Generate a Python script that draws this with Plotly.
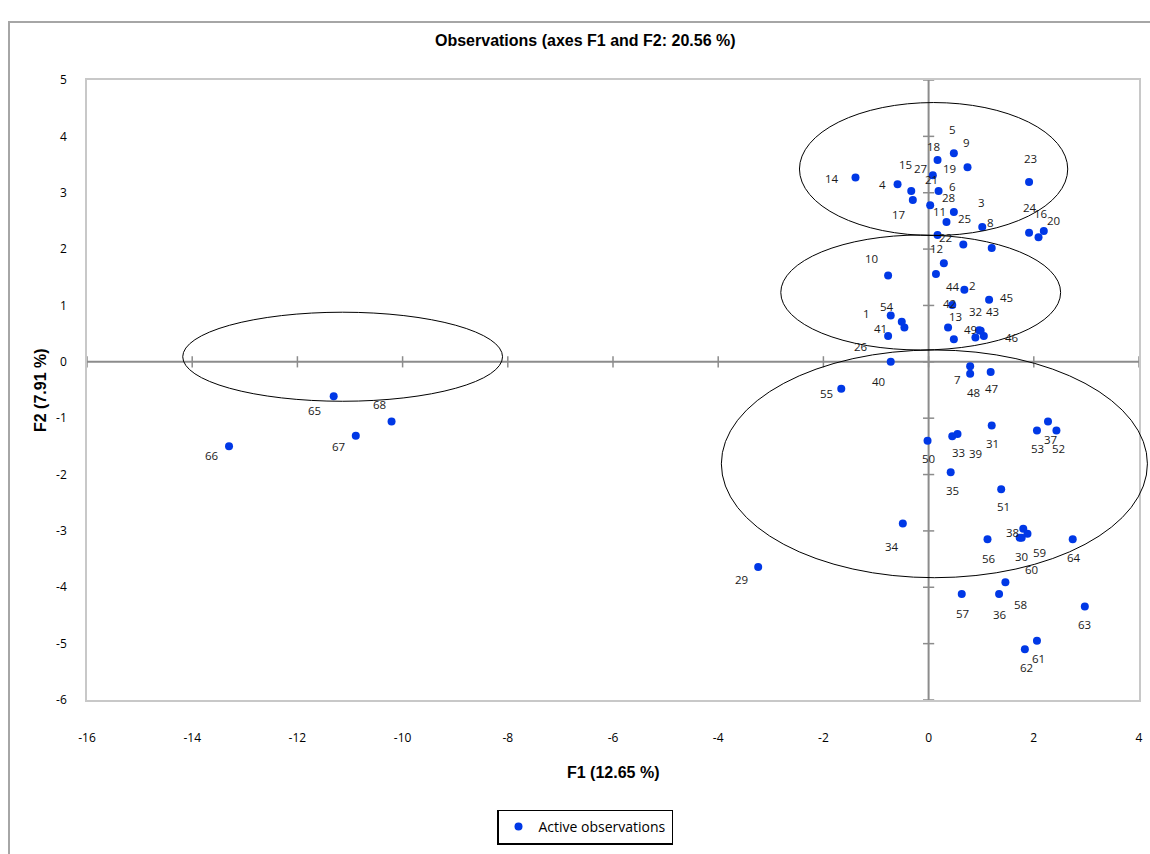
import plotly.graph_objects as go

# ---------------- data ----------------
obs_labels = [str(i) for i in range(1, 69)]
f1 = [-0.72, 0.68, 1.02, -0.59, 0.48, 0.48, 0.79, 1.20, 0.74, -0.77,
      0.17, 0.14, 0.48, -1.39, -0.33, 2.09, -0.30, 0.17, 0.19, 2.19,
      0.03, 0.29, 1.91, 1.91, 0.66, -0.77, 0.08, 0.34, -3.24, 1.73,
      1.20, 0.89, 0.45, -0.49, 0.42, 1.34, 2.27, 1.80, 0.55, -0.72,
      -0.46, 0.37, 1.05, 0.45, 1.15, 0.99, 1.18, 0.79, 0.96, -0.02,
      1.38, 2.43, 2.06, -0.51, -1.66, 1.12, 0.63, 1.46, 1.88, 1.77,
      2.06, 1.83, 2.97, 2.74, -11.31, -13.30, -10.89, -10.21]
f2 = [0.82, 1.28, 2.39, 3.15, 3.70, 2.66, -0.08, 2.02, 3.45, 1.53,
      2.25, 1.56, 0.40, 3.27, 3.03, 2.21, 2.87, 3.58, 3.03, 2.32,
      2.78, 1.75, 3.19, 2.29, 2.08, 0.46, 3.31, 2.48, -3.64, -3.12,
      -1.13, 0.43, -1.32, -2.87, -1.96, -4.12, -1.06, -2.96, -1.28, 0.00,
      0.61, 0.61, 0.46, 1.01, 1.10, 0.55, -0.18, -0.21, 0.56, -1.40,
      -2.26, -1.22, -1.22, 0.71, -0.48, -3.15, -4.12, -3.91, -3.05, -3.12,
      -4.95, -5.10, -4.34, -3.15, -0.61, -1.50, -1.31, -1.06]

x_ticks = list(range(-16, 5, 2))
y_ticks = list(range(-6, 6, 1))
x_ticktext = [str(v) for v in x_ticks]   # plain hyphen minus, as in the reference
y_ticktext = [str(v) for v in y_ticks]

# ---------------- styles ----------------
# label placement offsets (pixels) relative to each point
label_dx = [-24, 8, -1, -15, -1, -1, -13, -1, -1, -17,
            2, 1, 2, -23, -6, 2, -14, -4, 11, 10,
            1, 2, 1, 1, 1, -27, -12, 2, -17, 2,
            1, 0, 6, -11, 2, 1, 2, -11, 18, -12,
            -24, 1, 9, 1, 17, 31, 1, 3, -9, 1,
            2, 2, 1, -15, -15, 1, 1, 15, 12, 10,
            2, 2, 0, 1, -19, -17, -17, -12]
label_dy = [2, 4, 25, 0, 24, 25, -13, 25, 25, 17,
            24, 25, 23, -1, 27, 24, -14, 14, 23, 11,
            26, 26, 24, 25, 26, -11, 7, 25, -13, -19,
            -18, 26, -16, -23, -18, -20, -18, -4, -20, -20,
            -1, 24, 24, 18, 2, -7, -17, -19, 1, -18,
            -17, -18, -18, 15, -5, -19, -19, -22, -19, -32,
            -18, -18, -18, -18, -14, -9, -11, 17]

# ellipses (center x, center y, half width, half height) in axis units
ellipses = [
    (0.095, 3.42, 2.55, 1.18),
    (-0.15, 1.23, 2.66, 1.02),
    (0.11, -1.81, 4.05, 2.02),
    (-11.14, 0.09, 3.04, 0.79),
]

XMIN, XMAX = -16, 4
YMIN, YMAX = -6, 5
W, H = 1150, 854
ML, MR, MT, MB = 87, 11, 80, 154
PW, PH = W - ML - MR, H - MT - MB

BLUE = "#0038E6"
AXGRAY = "#8c8c8c"
label_font = "Open Sans, Noto Sans, sans-serif"
narrow = "Liberation Sans Narrow, Arial Narrow, Liberation Sans, Arial, sans-serif"

fig = go.Figure()

# zero-axis tick marks
fig.add_trace(go.Scatter(
    x=[0] * len(y_ticks), y=y_ticks, mode="markers",
    marker=dict(symbol="line-ew", size=8, line=dict(color=AXGRAY, width=1.5)),
    hoverinfo="skip", showlegend=False))
fig.add_trace(go.Scatter(
    x=x_ticks, y=[0] * len(x_ticks), mode="markers",
    marker=dict(symbol="line-ns", size=8, line=dict(color=AXGRAY, width=1.5)),
    hoverinfo="skip", showlegend=False))

fig.add_trace(go.Scatter(
    x=f1, y=f2, mode="markers", name="Active observations",
    text=obs_labels,
    marker=dict(color=BLUE, size=8, line=dict(width=0)),
    hovertemplate="%{text}: (%{x}, %{y})<extra></extra>"))

annotations = []
for lab, x, y, dx, dy in zip(obs_labels, f1, f2, label_dx, label_dy):
    annotations.append(dict(
        x=x, y=y, xref="x", yref="y", text=lab, showarrow=False,
        xshift=dx, yshift=dy,
        font=dict(family=label_font, size=11.5, color="#1a1a1a")))

# titles
annotations.append(dict(
    text="<b>Observations (axes F1 and F2: 20.56 %)</b>",
    x=(585 - ML) / PW, y=(PH + MT - 40) / PH, xref="paper", yref="paper",
    showarrow=False, xanchor="center", yanchor="middle",
    font=dict(family=narrow, size=16, color="#000")))
annotations.append(dict(
    text="<b>F1 (12.65 %)</b>",
    x=0.5, y=(PH + MT - 772) / PH, xref="paper", yref="paper",
    showarrow=False, xanchor="center", yanchor="middle",
    font=dict(family=narrow, size=16, color="#000")))
annotations.append(dict(
    text="<b>F2 (7.91 %)</b>",
    x=(40 - ML) / PW, y=0.5, xref="paper", yref="paper", textangle=-90,
    showarrow=False, xanchor="center", yanchor="middle",
    font=dict(family=narrow, size=16, color="#000")))

shapes = []
# zero lines
shapes.append(dict(type="line", xref="x", yref="y", x0=XMIN, x1=XMAX, y0=0, y1=0,
                   line=dict(color=AXGRAY, width=2), layer="below"))
shapes.append(dict(type="line", xref="x", yref="y", x0=0, x1=0, y0=YMIN, y1=YMAX,
                   line=dict(color=AXGRAY, width=2), layer="below"))
# ellipses drawn in paper space so they are not clipped at the plot edge
for cx, cy, a, b in ellipses:
    shapes.append(dict(
        type="circle", xref="paper", yref="paper",
        x0=(cx - a - XMIN) / (XMAX - XMIN), x1=(cx + a - XMIN) / (XMAX - XMIN),
        y0=(cy - b - YMIN) / (YMAX - YMIN), y1=(cy + b - YMIN) / (YMAX - YMIN),
        line=dict(color="#000", width=1)))
# chart-area frame
shapes.append(dict(type="rect", xref="paper", yref="paper",
                   x0=(9 - ML) / PW, x1=1.03, y0=-0.3, y1=(PH + MT - 22) / PH,
                   line=dict(color="#a6a6a6", width=2), layer="below"))

fig.update_layout(
    width=W, height=H,
    margin=dict(l=ML, r=MR, t=MT, b=MB, autoexpand=False),
    paper_bgcolor="white", plot_bgcolor="white",
    font=dict(family=narrow, size=11, color="#000"),
    xaxis=dict(range=[XMIN, XMAX], tickvals=x_ticks, ticktext=x_ticktext,
               showgrid=False, zeroline=False, automargin=False,
               showline=True, mirror=True, linecolor="#c8c8c8", linewidth=1.5,
               ticks="outside", ticklen=26, tickcolor="rgba(0,0,0,0)",
               tickfont=dict(family=label_font, size=12)),
    yaxis=dict(range=[YMIN, YMAX], tickvals=y_ticks, ticktext=y_ticktext,
               showgrid=False, zeroline=False, automargin=False,
               showline=True, mirror=True, linecolor="#c8c8c8", linewidth=1.5,
               ticks="outside", ticklen=16, tickcolor="rgba(0,0,0,0)",
               tickfont=dict(family=label_font, size=12)),
    showlegend=True,
    legend=dict(x=(585 - ML) / PW, y=(PH + MT - 827) / PH, xanchor="center", yanchor="middle",
                bordercolor="#000", borderwidth=1.5, bgcolor="white",
                font=dict(family="Open Sans, sans-serif", size=14, color="#000"),
                itemwidth=30),
    annotations=annotations,
    shapes=shapes,
)

fig.write_html("out.html", config={"displayModeBar": False},
               post_script="document.body.style.margin='0';document.body.style.padding='0';")
